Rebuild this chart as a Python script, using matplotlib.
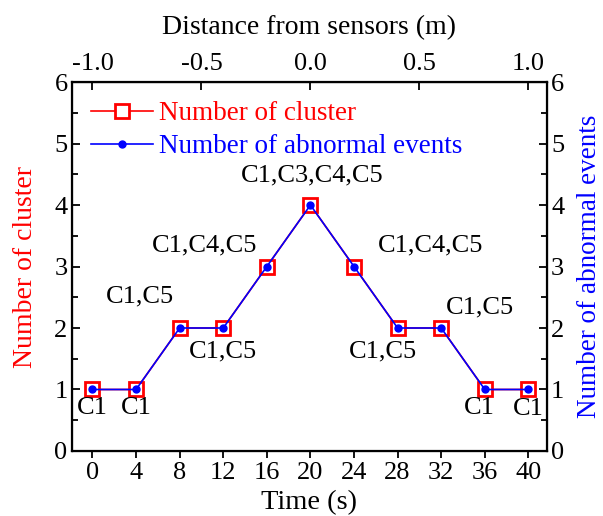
import matplotlib
matplotlib.use("Agg")
import matplotlib.pyplot as plt

plt.rcParams['font.family'] = ['Liberation Serif', 'DejaVu Serif']
plt.rcParams['mathtext.fontset'] = 'stix'

# data
time_s = [0, 4, 8, 12, 16, 20, 24, 28, 32, 36, 40]
num_cluster = [1, 1, 2, 2, 3, 4, 3, 2, 2, 1, 1]
num_events = [1, 1, 2, 2, 3, 4, 3, 2, 2, 1, 1]
point_labels = ["C1", "C1", "C1,C5", "C1,C5", "C1,C4,C5", "C1,C3,C4,C5",
                "C1,C4,C5", "C1,C5", "C1,C5", "C1", "C1"]
dist_ticks = [-1.0, -0.5, 0.0, 0.5, 1.0]

# label offsets in pixels
label_offsets = [(0, -19), (0, -19), (-40, 32), (0, -23), (-62, 21), (2, 30),
                 (77, 21), (-15, -23), (39, 21), (-5, -19), (0, -20)]

fig = plt.figure(figsize=(6.03, 5.16), dpi=100)
ax = fig.add_axes([0.119, 0.126, 0.788, 0.715])

ax.plot(time_s, num_cluster, color='red', lw=1.2, marker='s', ms=9.5,
        mfc='white', mec='red', mew=2, label='Number of cluster', zorder=3)
ax.plot(time_s, num_events, color='blue', lw=1.2, marker='o', ms=5,
        mfc='blue', mec='blue', label='Number of abnormal events', zorder=4)

for t, v, lab, off in zip(time_s, num_cluster, point_labels, label_offsets):
    ax.annotate(lab, (t, v), xytext=off, textcoords='offset pixels',
                ha='center', va='center', fontsize=19)

ax.set_xlim(-1.9, 41.7)
ax.set_ylim(0, 6)
ax.set_xticks(time_s)
ax.set_yticks(range(7))
ax.set_yticks([0.5, 1.5, 2.5, 3.5, 4.5, 5.5], minor=True)
ax.tick_params(axis='x', direction='out', labelsize=19, length=5, width=1.3, pad=3)
ax.tick_params(axis='y', which='both', direction='in', labelsize=19, width=1.3, pad=3)
ax.tick_params(axis='y', which='major', length=6)
ax.tick_params(axis='y', which='minor', length=4)
ax.set_xlabel('Time (s)', fontsize=20.5, labelpad=4)
ax.set_ylabel('Number of cluster', fontsize=20, color='red', labelpad=12)
for s in ax.spines.values():
    s.set_linewidth(1.6)

leg = ax.legend(loc='upper left', fontsize=19.5, frameon=False,
                handlelength=2.3, handletextpad=0.22, borderaxespad=0.45,
                borderpad=0.25, labelspacing=0.3)
for txt, c in zip(leg.get_texts(), ['red', 'blue']):
    txt.set_color(c)

ax2 = ax.twinx()
ax2.set_ylim(0, 6)
ax2.set_yticks(range(7))
ax2.set_yticks([0.5, 1.5, 2.5, 3.5, 4.5, 5.5], minor=True)
ax2.tick_params(axis='y', which='both', direction='in', labelsize=19, width=1.3, pad=3)
ax2.tick_params(axis='y', which='major', length=6)
ax2.tick_params(axis='y', which='minor', length=4)
ax2.set_ylabel('Number of abnormal events', fontsize=19.5, color='blue', labelpad=9)

top = ax.secondary_xaxis('top', functions=(lambda t: (t - 20) / 20.0,
                                           lambda d: d * 20.0 + 20))
top.set_xticks(dist_ticks)
top.set_xticklabels(['%.1f' % d for d in dist_ticks])
top.tick_params(direction='in', labelsize=19, length=6, width=1.3, pad=5)
top.set_xlabel('Distance from sensors (m)', fontsize=20, labelpad=14)

fig.savefig('out.png', dpi=100)
